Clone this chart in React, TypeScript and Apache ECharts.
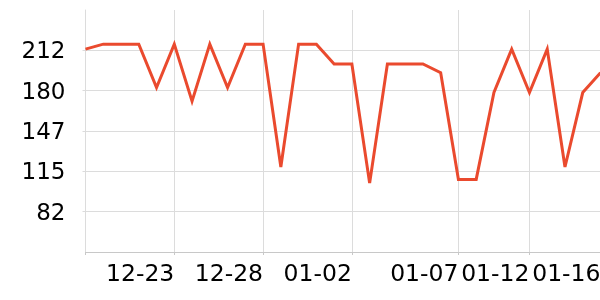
import React, { useEffect, useRef } from "react";
import * as echarts from "echarts";

const categories: string[] = [
  "12-18", "12-19", "12-20", "12-21", "12-22", "12-23", "12-24", "12-25", "12-26", "12-27",
  "12-28", "12-29", "12-30", "12-31", "01-01", "01-02", "01-03", "01-04", "01-04", "01-05",
  "01-06", "01-07", "01-08", "01-10", "01-11", "01-12", "01-13", "01-14", "01-15", "01-16",
];
const values: number[] = [
  213, 217, 217, 217, 182, 217, 171, 217, 182, 217,
  217, 118, 217, 217, 201, 201, 105, 201, 201, 201,
  194, 108, 108, 178, 213, 178, 213, 118, 178, 194,
];
const labelIndices: number[] = [0, 5, 10, 15, 21, 25, 29];
const hiddenLabelIndices: number[] = [0];
const yMin = 49.5;
const yMax = 244.5;
const yStep = 32.5;

const FONT = "DejaVu Sans";
const LINE_COLOR = "#ea4a2e";
const GRID_COLOR = "#dcdcdc";

export default function App() {
  const ref = useRef<HTMLDivElement>(null);
  useEffect(() => {
    if (!ref.current) return;
    const chart = echarts.init(ref.current, undefined, { renderer: "svg" });
    const showIdx = (i: number) => labelIndices.includes(i);
    chart.setOption({
      animation: false,
      grid: { left: 85.5, right: 19.5, top: 10, bottom: 48, containLabel: false },
      xAxis: {
        type: "category",
        data: categories,
        boundaryGap: false,
        axisLine: { show: true, lineStyle: { color: "#c8c8c8", width: 1 } },
        axisTick: { show: true, length: 3, interval: showIdx, lineStyle: { color: "#c8c8c8" } },
        splitLine: { show: true, interval: showIdx, lineStyle: { color: GRID_COLOR, width: 1 } },
        axisLabel: {
          interval: (i: number) => showIdx(i) && !hiddenLabelIndices.includes(i),
          align: "right",
          margin: 9,
          color: "#000",
          fontFamily: FONT,
          fontSize: 23.5,
        },
      },
      yAxis: {
        type: "value",
        min: yMin,
        max: yMax,
        interval: yStep,
        axisLine: { show: true, lineStyle: { color: GRID_COLOR, width: 1 } },
        axisTick: { show: true, length: 3, lineStyle: { color: GRID_COLOR } },
        splitLine: { show: true, showMinLine: false, showMaxLine: false, lineStyle: { color: GRID_COLOR, width: 1 } },
        axisLabel: {
          showMinLabel: false,
          showMaxLabel: false,
          margin: 20,
          color: "#000",
          fontFamily: FONT,
          fontSize: 23,
          formatter: (v: number) => String(Math.round(v)),
        },
      },
      series: [
        {
          type: "line",
          data: values,
          showSymbol: false,
          symbol: "none",
          clip: false,
          lineStyle: { color: LINE_COLOR, width: 3, join: "miter" },
          itemStyle: { color: LINE_COLOR },
        },
      ],
    });
    return () => chart.dispose();
  }, []);
  return (
    <div style={{ position: "fixed", left: 0, top: 0, width: 600, height: 300, overflow: "hidden" }}>
      <div ref={ref} style={{ width: 620, height: 300 }} />
    </div>
  );
}
